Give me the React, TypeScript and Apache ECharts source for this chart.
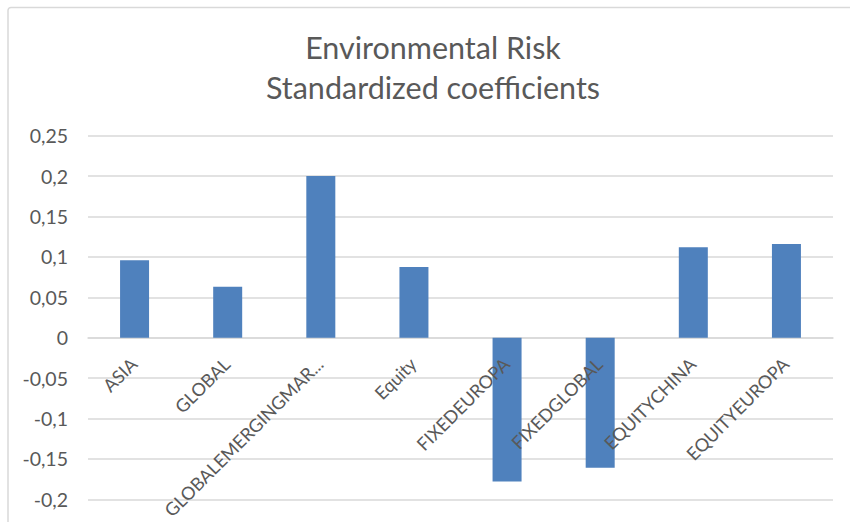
import React, { useEffect, useRef } from "react";
import * as echarts from "echarts";

const categories = [
  "ASIA",
  "GLOBAL",
  "GLOBALEMERGINGMAR...",
  "Equity",
  "FIXEDEUROPA",
  "FIXEDGLOBAL",
  "EQUITYCHINA",
  "EQUITYEUROPA",
];
const coefficients = [0.096, 0.063, 0.2, 0.0875, -0.178, -0.161, 0.112, 0.116];
const titleLines = ["Environmental Risk", "Standardized coefficients"];
const yMin = -0.2;
const yMax = 0.25;
const yStep = 0.05;

const FONT = "Lato, 'Open Sans', sans-serif";
const GRAY = "#595959";

export default function App() {
  const ref = useRef<HTMLDivElement>(null);
  useEffect(() => {
    if (!ref.current) return;
    const chart = echarts.init(ref.current, undefined, { renderer: "svg" });
    chart.setOption({
      animation: false,
      backgroundColor: "#ffffff",
      graphic: [
        {
          type: "rect",
          shape: { x: 8, y: 7.5, width: 1000, height: 1000, r: 3 },
          style: { fill: "none", stroke: "#d9d9d9", lineWidth: 1.5 },
          silent: true,
        },
        {
          type: "text",
          x: 433,
          y: 47,
          style: {
            text: titleLines[0],
            textAlign: "center",
            textVerticalAlign: "middle",
            fontSize: 30.5,
            fontFamily: FONT,
            fill: GRAY,
          },
        },
        {
          type: "text",
          x: 433,
          y: 87,
          style: {
            text: titleLines[1],
            textAlign: "center",
            textVerticalAlign: "middle",
            fontSize: 30.5,
            fontFamily: FONT,
            fill: GRAY,
          },
        },
      ],
      grid: {
        left: 88,
        right: 17,
        top: 135.7,
        bottom: 22.7,
        containLabel: false,
        outerBoundsMode: "none",
      },
      xAxis: {
        type: "category",
        data: categories,
        axisLine: { onZero: true, lineStyle: { color: "#d9d9d9", width: 1.5 } },
        axisTick: { show: false },
        axisLabel: { show: false },
      },
      yAxis: {
        type: "value",
        min: yMin,
        max: yMax,
        interval: yStep,
        axisLine: { show: false },
        axisTick: { show: false },
        splitLine: { lineStyle: { color: "#d9d9d9", width: 1.5 } },
        axisLabel: {
          margin: 20,
          color: GRAY,
          fontSize: 19.5,
          fontFamily: FONT,
          formatter: (v: number) => String(Math.round(v * 100) / 100).replace(".", ","),
        },
      },
      series: [
        {
          type: "bar",
          data: coefficients,
          barWidth: 29,
          z: 2,
          itemStyle: { color: "#4F81BD" },
        },
        {
          type: "custom",
          clip: false,
          silent: true,
          z: 5,
          data: categories.map((_, i) => [i, 0]),
          renderItem: (params: any, api: any) => {
            const p = api.coord([api.value(0), api.value(1)]);
            return {
              type: "text",
              x: p[0] - 1,
              y: p[1] + 23,
              rotation: Math.PI / 4,
              z2: 10,
              style: {
                text: categories[params.dataIndex],
                align: "right",
                verticalAlign: "middle",
                fontSize: 18,
                fontFamily: FONT,
                fill: GRAY,
              },
            };
          },
        },
      ],
    });
    return () => chart.dispose();
  }, []);
  return (
    <div
      ref={ref}
      style={{ position: "absolute", left: 0, top: 0, width: 850, height: 522 }}
    />
  );
}
